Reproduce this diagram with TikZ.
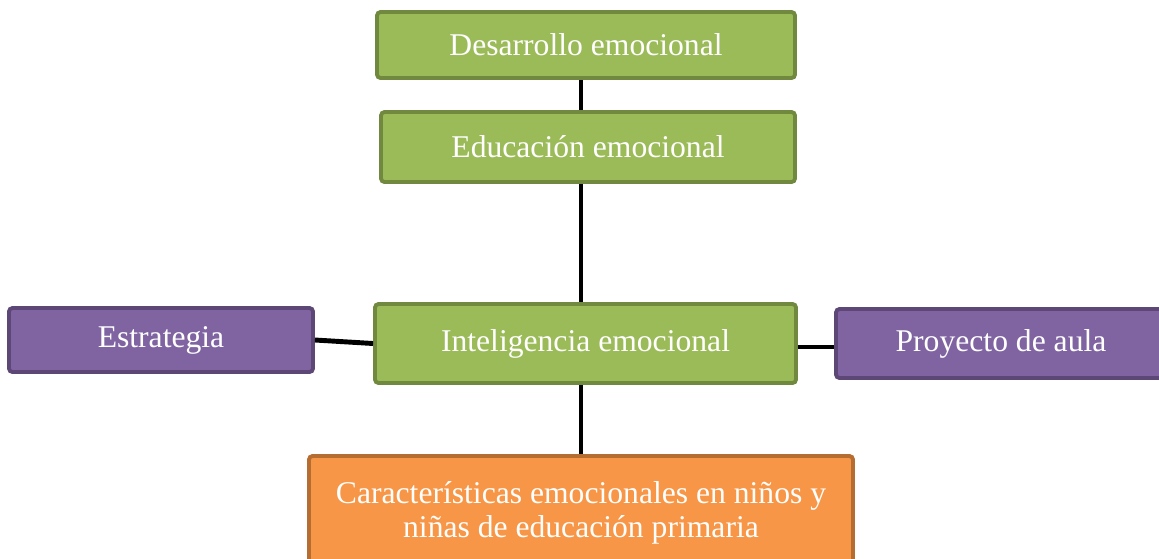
\documentclass[tikz,border=0pt]{standalone}
\usepackage{fontspec}
\setmainfont{Liberation Serif}
\usepackage{tikz}
\usetikzlibrary{
    calc,
    positioning
}

\begin{document}
\begin{tikzpicture}[
    font=\fontsize{18}{19}\selectfont,
    box/.style={
    	draw,
    	line width=2.2pt,
    	rounded corners=2, inner sep=2pt, align=center, anchor=center,
    	text=white
    }, lin/.style={
    	line width=2.8pt
    }]
    \definecolor{my-green}{RGB}{155, 187, 89}
    \definecolor{my-green-dark}{RGB}{113, 137, 63}
    \definecolor{my-purple}{RGB}{128, 100, 162}
    \definecolor{my-purple-dark}{RGB}{92, 71, 118}
    \definecolor{my-orange}{RGB}{247, 150, 70}
    \definecolor{my-orange-dark}{RGB}{182, 109, 49}

    \useasboundingbox (0,0) rectangle (23.18,-11.16);

    %%% CENTRE COLUMN
    \node[box, fill=my-green, draw=my-green-dark, minimum width=8.36cm, minimum height=1.32cm] (des) at (11.72,-0.90) {Desarrollo emocional};
    \node[box, fill=my-green, draw=my-green-dark, minimum width=8.28cm, minimum height=1.40cm] (edu) at (11.76,-2.94) {Educación emocional};
    \node[box, fill=my-green, draw=my-green-dark, minimum width=8.42cm, minimum height=1.58cm] (intel) at (11.71,-6.87) {Inteligencia emocional};

    \node[box, fill=my-orange, draw=my-orange-dark, minimum width=10.88cm, minimum height=2.28cm] (carac) at (11.62,-10.26) {Características emocionales en niños y\\niñas de educación primaria};

    %%% SIDES
    \node[box, fill=my-purple, draw=my-purple-dark, minimum width=6.08cm, minimum height=1.28cm] (estr) at (3.22,-6.80) {Estrategia};
    \node[box, fill=my-purple, draw=my-purple-dark, minimum width=6.60cm, minimum height=1.38cm] (proy) at (20.02,-6.87) {Proyecto de aula};

    %%% EDGES
    \draw[lin] (des.south -| carac.north) -- (edu.north -| carac.north);
    \draw[lin] (edu.south -| carac.north) -- (intel.north -| carac.north);
    \draw[lin] (intel.south -| carac.north) -- (carac.north);
    \draw[lin] (estr.east) -- (intel.west);
    \draw[lin] ([yshift=-0.07cm]intel.east) -- ([yshift=-0.07cm]proy.west);
    %%% EDGES

\end{tikzpicture}
\end{document}
